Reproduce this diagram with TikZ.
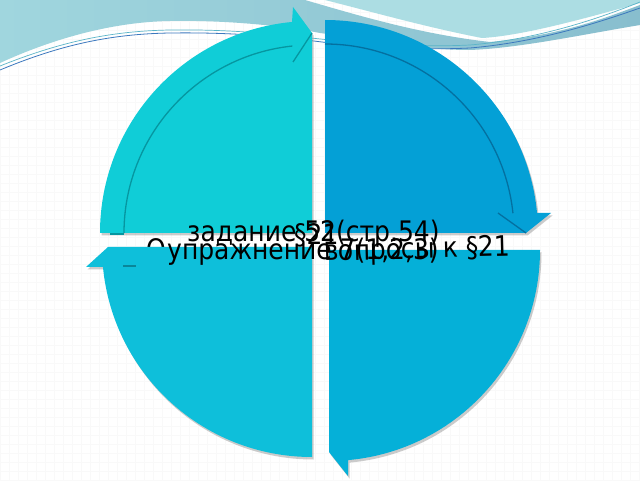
\documentclass[tikz,border=0pt]{standalone}
\usepackage{fontspec}
\setmainfont{DejaVu Sans}
\newcommand{\tallt}[1]{\scalebox{1}[1.13]{#1}}
\begin{document}
\begin{tikzpicture}[x=1pt,y=1pt]
\definecolor{cTL}{RGB}{16,205,215}
\definecolor{cTR}{RGB}{4,160,214}
\definecolor{cBL}{RGB}{14,191,218}
\definecolor{cBR}{RGB}{5,176,216}
\definecolor{dTL}{RGB}{6,150,160}
\definecolor{dTR}{RGB}{4,112,160}
\definecolor{bandL}{RGB}{160,214,222}
\definecolor{bandR}{RGB}{136,190,206}
\definecolor{bandC}{RGB}{172,221,227}
\definecolor{lineA}{RGB}{60,120,190}
\definecolor{lineB}{RGB}{90,180,200}
\tikzset{
  lbl/.style={font=\fontsize{25}{30}\selectfont, inner sep=0pt, text=black},
  shade3d/.style={fill=black!45, opacity=0.45},
  edgeTL/.style={draw=dTL, line width=1.3pt},
  edgeTR/.style={draw=dTR, line width=1.3pt}
}
\useasboundingbox (0,0) rectangle (640,480);
\clip (0,0) rectangle (640,480);
\fill[white] (0,0) rectangle (640,480);
% faint grid texture
\draw[black!2.5, line width=0.3pt] (0,0) grid[step=9] (640,480);
% top decoration
\shade[left color=bandL, right color=bandR]
  (0,480) -- (305,480)
  .. controls (360,464) and (420,446) .. (490,438)
  .. controls (560,445) and (600,460) .. (640,475)
  -- (640,455)
  .. controls (580,445) and (520,432) .. (470,430)
  .. controls (420,430) and (370,440) .. (320,447)
  .. controls (280,455) and (220,460) .. (170,459)
  .. controls (110,458) and (50,440) .. (0,417) -- cycle;
\fill[bandC] (325,480) -- (640,480) -- (640,477)
  .. controls (580,460) and (520,444) .. (482,442)
  .. controls (430,452) and (380,466) .. (325,480) -- cycle;
\draw[lineB, line width=0.7pt] (0,414) .. controls (60,438) and (110,449) .. (170,450)
  .. controls (240,451) and (290,444) .. (330,440)
  .. controls (380,435) and (430,433) .. (470,435)
  .. controls (540,441) and (600,462) .. (640,478);
\draw[lineA, line width=0.8pt] (0,410) .. controls (60,435) and (110,446) .. (170,447)
  .. controls (240,448) and (290,442) .. (330,437)
  .. controls (380,432) and (430,430) .. (470,432)
  .. controls (540,438) and (600,458) .. (640,472);
% hidden text, only its top shows in the gap
\begin{scope}
  \clip (120,233) rectangle (200,260);
  \node[lbl, anchor=base west] (hid) at (146,220) {\tallt{О}};
\end{scope}
% quarter pieces
\def\pTL{(312,247) -- (100,247) arc[start angle=180,end angle=95.41,radius=212] -- (293,473) -- (312,447) -- cycle}
\def\pTR{(325,247) -- (325,460) arc[start angle=90,end angle=5.39,radius=213] -- (551,267) -- (526,247) -- cycle}
\def\pBR{(329,230) -- (540,230) arc[start angle=0,end angle=-84.83,radius=211] -- (348,4) -- (329,28) -- cycle}
\def\pBL{(312,233) -- (312,23) arc[start angle=270,end angle=185.46,radius=210] -- (86,213) -- (108,233) -- cycle}
\begin{scope}[shift={(1.5,-2.5)}]
  \fill[shade3d] \pTL;
  \fill[shade3d] \pTR;
  \fill[shade3d] \pBR;
  \fill[shade3d] \pBL;
\end{scope}
\fill[cTL] \pTL;
\fill[cTR] \pTR;
\fill[cBR] \pBR;
\fill[cBL] \pBL;
% edges of the pieces
\draw[edgeTL] (124,247) arc[start angle=180,end angle=96,radius=188];
\draw[edgeTL] (293,418) -- (312,447);
\draw[edgeTL, line width=2pt] (110,246) -- (124,246);
\draw[edgeTR] (325,436) arc[start angle=90,end angle=6,radius=189];
\draw[edgeTR] (498,267) -- (526,247);
\draw[draw=cBL!70!black, line width=2pt] (123,214) -- (136,214);
% labels
\node[lbl, anchor=base west] (s21) at (294,236) {\tallt{§21}};
\node[lbl, anchor=base west] (zad) at (187,238) {\tallt{задание 52(стр.54)}};
\node[lbl, anchor=base west] (upr) at (167,221) {\tallt{упражнение 7(1,2,3)}};
\node[lbl, anchor=base west, rotate=1.5] (vop) at (324,219) {\tallt{вопросы к §21}};
\end{tikzpicture}
\end{document}
